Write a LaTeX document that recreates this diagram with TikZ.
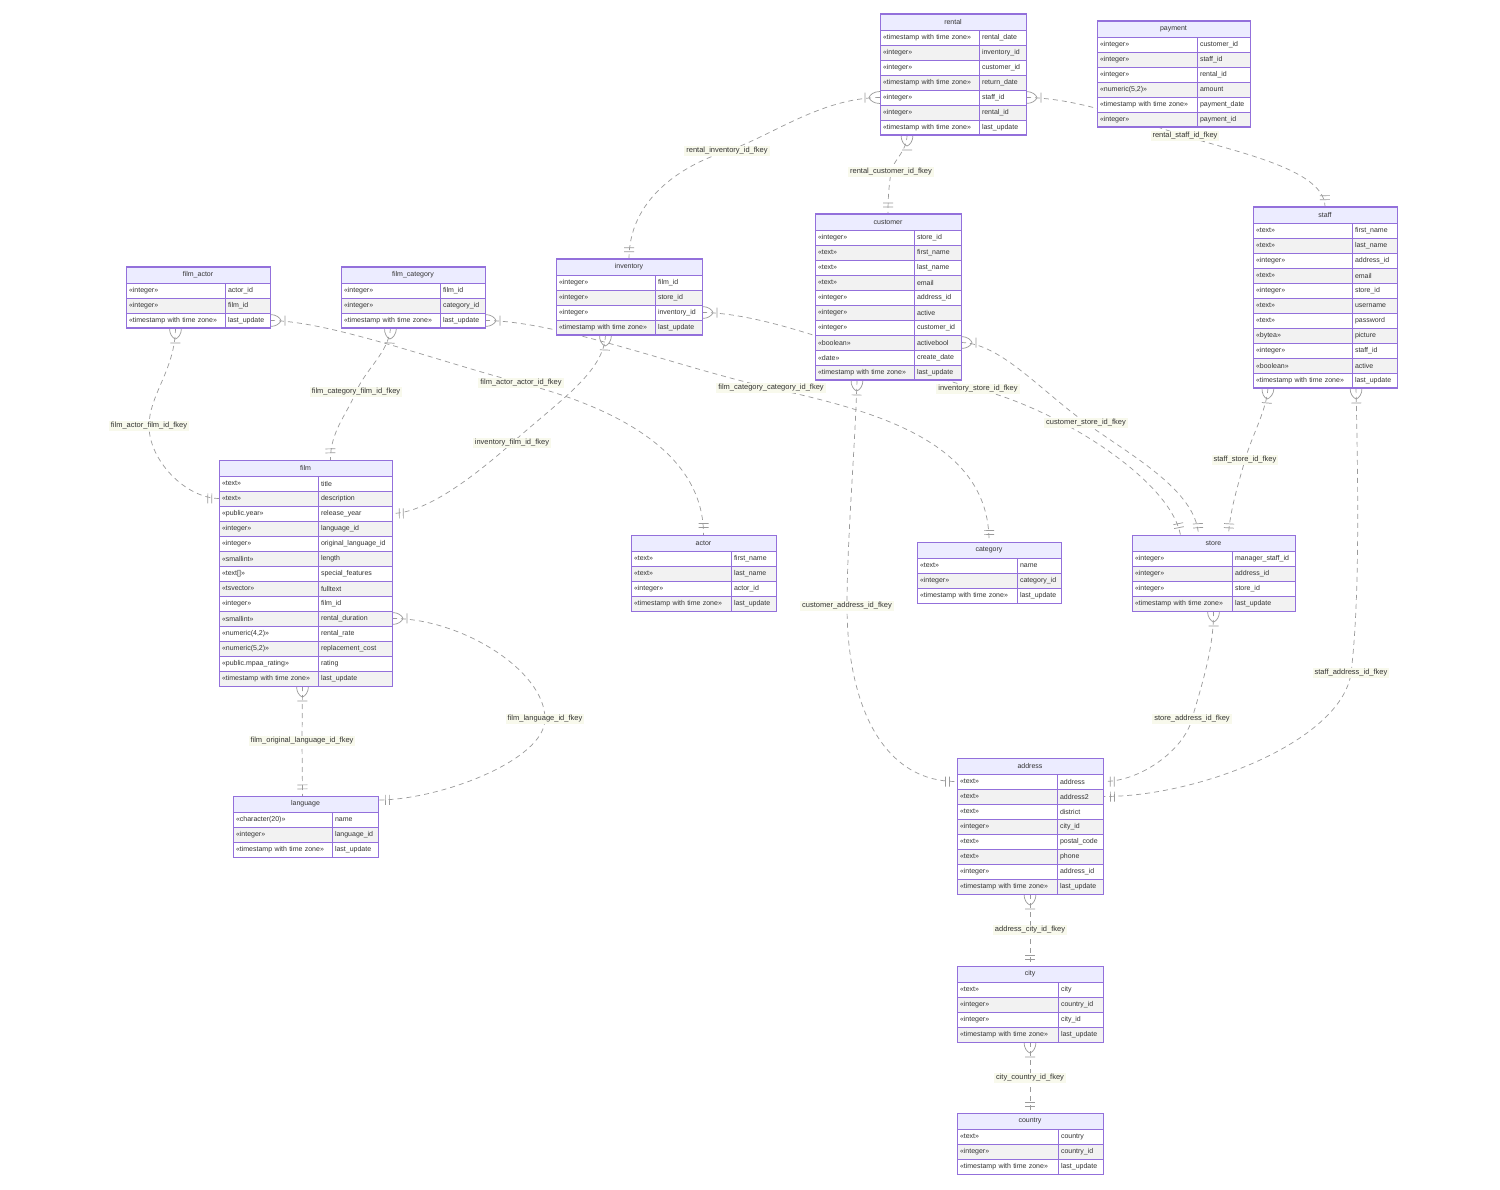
\documentclass[tikz,border=0pt]{standalone}
\usepackage{fontspec}
\setmainfont{Liberation Sans}
\usetikzlibrary{decorations.markings}
\definecolor{entborder}{HTML}{9370DB}
\definecolor{headfill}{HTML}{ECECFF}
\definecolor{rowgray}{HTML}{F2F2F2}
\definecolor{edgegray}{HTML}{9A9A9A}
\definecolor{lblfill}{HTML}{F8F9EC}
\definecolor{txt}{HTML}{333333}
\pgfdeclarelayer{bg}
\pgfdeclarelayer{edges}
\pgfsetlayers{bg,edges,main}
% one table: name, left, top, type width, attr width, rows
\newcommand{\erentity}[6]{%
  \pgfmathsetmacro\erw{#4+#5}%
  \pgfmathsetmacro\ertw{#4-6}%
  \pgfmathsetmacro\eraw{#5-6}%
  \node[enthead, minimum width=\erw, anchor=north west] (#1) at (#2,#3) {\detokenize{#1}};
  \foreach \typ/\att [count=\i] in {#6} {%
    \pgfmathsetmacro\ery{#3+16+15*(\i-1)}%
    \ifodd\i\relax \def\erfill{white}\else \def\erfill{rowgray}\fi
    \node[entcell, fill=\erfill, text width=\ertw pt, anchor=north west] (#1-t\i) at (#2,\ery) {\typ};
    \node[entcell, fill=\erfill, text width=\eraw pt, anchor=north west] (#1-a\i) at (#2+#4,\ery) {\att};
    \xdef\ern{\i}%
  }
  \pgfmathsetmacro\erh{16+15*\ern}%
  \node[entframe, minimum width=\erw, minimum height=\erh, anchor=north west] (#1-box) at (#2,#3) {};
}

\begin{document}
\begin{tikzpicture}[x=1pt,y=-1pt,
  enthead/.style={draw=entborder, fill=headfill, line width=0.8pt, minimum height=16, inner sep=0, outer sep=0, font=\fontsize{7}{8}\selectfont, text=txt},
  entcell/.style={draw=entborder, line width=0.8pt, minimum height=15, inner xsep=3, inner ysep=0, outer sep=0, align=left, font=\fontsize{7}{8}\selectfont, text=txt},
  entframe/.style={draw=entborder, line width=1pt, inner sep=0, outer sep=0},
  fkedge/.style={draw=edgegray, line width=0.7pt, dash pattern=on 5pt off 4pt,
    postaction={decorate, decoration={markings,
      mark=at position 0 with {\draw[solid, edgegray, line width=0.7pt] (0,6) .. controls (6,6) and (10,3) .. (11,0) .. controls (10,-3) and (6,-6) .. (0,-6) (15,5) -- (15,-5);},
      mark=at position 0.999 with {\draw[solid, edgegray, line width=0.7pt] (-7,5) -- (-7,-5) (-11,5) -- (-11,-5);}}}},
  fklabel/.style={fill=lblfill, inner xsep=2, inner ysep=1.5, font=\fontsize{7.5}{9}\selectfont, text=txt}]
\useasboundingbox (0,0) rectangle (1500,1190);
\begin{pgfonlayer}{bg}
\fill[white] (0,0) rectangle (1500,1190);
\end{pgfonlayer}
%%
\erentity{rental}{880}{14}{99}{47}{«timestamp with time zone»/rental\_date, «integer»/inventory\_id, «integer»/customer\_id, «timestamp with time zone»/return\_date, «integer»/staff\_id, «integer»/rental\_id, «timestamp with time zone»/last\_update}
\erentity{payment}{1097}{21}{100}{53}{«integer»/customer\_id, «integer»/staff\_id, «integer»/rental\_id, {«numeric(5,2)»}/amount, «timestamp with time zone»/payment\_date, «integer»/payment\_id}
\erentity{customer}{815}{214}{99}{47}{«integer»/store\_id, «text»/first\_name, «text»/last\_name, «text»/email, «integer»/address\_id, «integer»/active, «integer»/customer\_id, «boolean»/activebool, «date»/create\_date, «timestamp with time zone»/last\_update}
\erentity{staff}{1253}{207}{99}{45}{«text»/first\_name, «text»/last\_name, «integer»/address\_id, «text»/email, «integer»/store\_id, «text»/username, «text»/password, «bytea»/picture, «integer»/staff\_id, «boolean»/active, «timestamp with time zone»/last\_update}
\erentity{film_actor}{126}{267}{99}{45}{«integer»/actor\_id, «integer»/film\_id, «timestamp with time zone»/last\_update}
\erentity{film_category}{341}{267}{99}{45}{«integer»/film\_id, «integer»/category\_id, «timestamp with time zone»/last\_update}
\erentity{inventory}{556}{259}{99}{47}{«integer»/film\_id, «integer»/store\_id, «integer»/inventory\_id, «timestamp with time zone»/last\_update}
\erentity{film}{219}{460}{99}{74}{«text»/title, «text»/description, «public.year»/release\_year, «integer»/language\_id, «integer»/original\_language\_id, «smallint»/length, {«text[]»}/special\_features, «tsvector»/fulltext, «integer»/film\_id, «smallint»/rental\_duration, {«numeric(4,2)»}/rental\_rate, {«numeric(5,2)»}/replacement\_cost, «public.mpaa\_rating»/rating, «timestamp with time zone»/last\_update}
\erentity{actor}{631}{535}{100}{45}{«text»/first\_name, «text»/last\_name, «integer»/actor\_id, «timestamp with time zone»/last\_update}
\erentity{category}{917}{542}{100}{44}{«text»/name, «integer»/category\_id, «timestamp with time zone»/last\_update}
\erentity{store}{1132}{535}{100}{63}{«integer»/manager\_staff\_id, «integer»/address\_id, «integer»/store\_id, «timestamp with time zone»/last\_update}
\erentity{address}{957}{758}{100}{46}{«text»/address, «text»/address2, «text»/district, «integer»/city\_id, «text»/postal\_code, «text»/phone, «integer»/address\_id, «timestamp with time zone»/last\_update}
\erentity{language}{233}{796}{99}{46}{«character(20)»/name, «integer»/language\_id, «timestamp with time zone»/last\_update}
\erentity{city}{957}{966}{101}{45}{«text»/city, «integer»/country\_id, «integer»/city\_id, «timestamp with time zone»/last\_update}
\erentity{country}{957}{1113}{101}{45}{«text»/country, «integer»/country\_id, «timestamp with time zone»/last\_update}
%
\coordinate (l1) at (727,151);
\coordinate (l2) at (891,172);
\coordinate (l3) at (1185,136);
\coordinate (l4) at (149,426);
\coordinate (l5) at (356,392);
\coordinate (l6) at (521,383);
\coordinate (l7) at (512,443);
\coordinate (l8) at (771,388);
\coordinate (l9) at (978,389);
\coordinate (l10) at (1086,423);
\coordinate (l11) at (1245,460);
\coordinate (l12) at (847,606);
\coordinate (l13) at (1351,673);
\coordinate (l14) at (1192,719);
\coordinate (l15) at (545,719);
\coordinate (l16) at (302,741);
\coordinate (l17) at (1030,930);
\coordinate (l18) at (1030,1078);
%
\begin{pgfonlayer}{edges}
\draw[fkedge] (rental-t5.west) .. controls (820,98) and (770,137) .. (l1) .. controls (680,166) and (629,200) .. (inventory.north);
\draw[fkedge] ([xshift=-46]rental-box.south) .. controls (907,152) and (893,160) .. (l2) .. controls (889,186) and (888,196) .. (customer.north);
\draw[fkedge] (rental-a5.east) .. controls (1080,98) and (1140,122) .. (l3) .. controls (1240,153) and (1325,170) .. (staff.north);
\draw[fkedge] (film_actor-t3.south) .. controls (175,370) and (149,395) .. (l4) .. controls (149,460) and (185,498) .. (film-t2.west);
\draw[fkedge] (film_category-t3.south) .. controls (389,352) and (365,370) .. (l5) .. controls (347,414) and (330,432) .. ([xshift=25]film.north);
\draw[fkedge] (film_actor-a3.east) .. controls (330,321) and (440,362) .. (l6) .. controls (610,406) and (704,450) .. (actor.north);
\draw[fkedge] (inventory-t4.south) .. controls (604,372) and (560,400) .. (l7) .. controls (470,480) and (425,513) .. (film-a3.east);
\draw[fkedge] (film_category-a3.east) .. controls (560,321) and (680,368) .. (l8) .. controls (870,410) and (990,440) .. (category.north);
\draw[fkedge] (inventory-a3.east) .. controls (780,313) and (900,370) .. (l9) .. controls (1060,410) and (1170,480) .. ([xshift=-33]store.north);
\draw[fkedge] (customer-a8.east) .. controls (1000,343) and (1040,390) .. (l10) .. controls (1130,455) and (1196,490) .. ([xshift=-15]store.north);
\draw[fkedge] ([xshift=-57]staff-box.south) .. controls (1266,412) and (1252,435) .. (l11) .. controls (1238,485) and (1230,510) .. ([xshift=15]store.north);
\draw[fkedge] ([xshift=-31]customer-box.south) .. controls (855,450) and (847,540) .. (l12) .. controls (847,700) and (880,782) .. (address-t1.west);
\draw[fkedge] ([xshift=31]staff-box.south) .. controls (1358,480) and (1360,600) .. (l13) .. controls (1342,740) and (1200,797) .. (address-a2.east);
\draw[fkedge] (store-box.south) .. controls (1214,650) and (1200,690) .. (l14) .. controls (1184,750) and (1140,782) .. (address-a1.east);
\draw[fkedge] (film-a10.east) .. controls (460,618) and (545,670) .. (l15) .. controls (545,760) and (440,800) .. ([yshift=4]language.east);
\draw[fkedge] ([xshift=-3]film-box.south) -- (l16) -- ([xshift=-3]language.north);
\draw[fkedge] (address-box.south) -- (l17) -- (city.north);
\draw[fkedge] (city-box.south) -- (l18) -- (country.north);
\end{pgfonlayer}
%
\node[fklabel] (lbl_rental_inventory) at (l1) {rental\_inventory\_id\_fkey};
\node[fklabel] (lbl_rental_customer) at (l2) {rental\_customer\_id\_fkey};
\node[fklabel] (lbl_rental_staff) at (l3) {rental\_staff\_id\_fkey};
\node[fklabel] (lbl_film_actor_film) at (l4) {film\_actor\_film\_id\_fkey};
\node[fklabel] (lbl_film_category_film) at (l5) {film\_category\_film\_id\_fkey};
\node[fklabel] (lbl_film_actor_actor) at (l6) {film\_actor\_actor\_id\_fkey};
\node[fklabel] (lbl_inventory_film) at (l7) {inventory\_film\_id\_fkey};
\node[fklabel] (lbl_film_category_category) at (l8) {film\_category\_category\_id\_fkey};
\node[fklabel] (lbl_inventory_store) at (l9) {inventory\_store\_id\_fkey};
\node[fklabel] (lbl_customer_store) at (l10) {customer\_store\_id\_fkey};
\node[fklabel] (lbl_staff_store) at (l11) {staff\_store\_id\_fkey};
\node[fklabel] (lbl_customer_address) at (l12) {customer\_address\_id\_fkey};
\node[fklabel] (lbl_staff_address) at (l13) {staff\_address\_id\_fkey};
\node[fklabel] (lbl_store_address) at (l14) {store\_address\_id\_fkey};
\node[fklabel] (lbl_film_language) at (l15) {film\_language\_id\_fkey};
\node[fklabel] (lbl_film_original_language) at (l16) {film\_original\_language\_id\_fkey};
\node[fklabel] (lbl_address_city) at (l17) {address\_city\_id\_fkey};
\node[fklabel] (lbl_city_country) at (l18) {city\_country\_id\_fkey};
%
\end{tikzpicture}
\end{document}
